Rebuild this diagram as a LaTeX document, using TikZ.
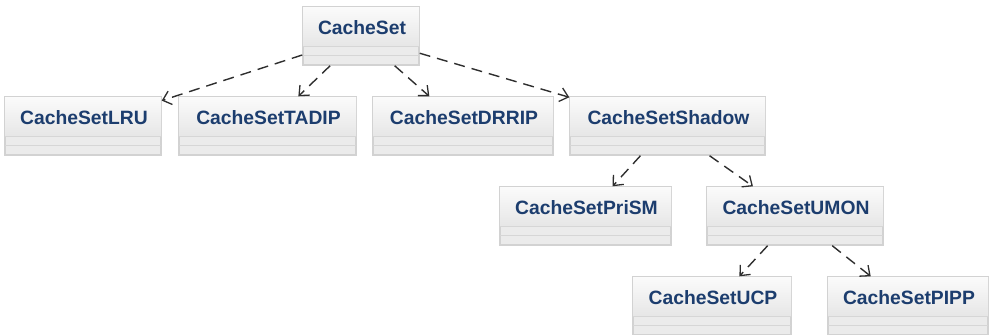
\documentclass[tikz,border=0pt]{standalone}
\usepackage{fontspec}
\setmainfont{Liberation Sans}
\usetikzlibrary{arrows.meta}
\definecolor{boxborder}{HTML}{D2D2D2}
\definecolor{boxtop}{HTML}{FBFBFB}
\definecolor{boxbottom}{HTML}{E6E6E6}
\definecolor{compfill}{HTML}{EBEBEB}
\definecolor{seprule}{HTML}{D6D6D6}
\definecolor{clsname}{HTML}{1C3D6E}
\definecolor{linkcol}{HTML}{2E2E2E}
\tikzset{
  clsbox/.style={rectangle, draw=boxborder, line width=1.4pt, fill=compfill, inner sep=0pt},
  namefill/.style={top color=boxtop, bottom color=boxbottom},
  seprule/.style={draw=seprule, line width=1pt},
  clsname/.style={font=\fontsize{19.3}{22}\selectfont\bfseries, text=clsname, inner sep=0pt},
  realizes/.style={draw=linkcol, line width=1.4pt, dash pattern=on 11pt off 7pt,
    -{Straight Barb[length=8pt,width=14pt,line width=1.3pt]}}
}
% \umlclass{node}{left}{top}{right}{bottom}{class name}
\newcommand\umlclass[6]{%
  \node[clsbox, minimum width={(#4-#2)*1pt}, minimum height={(#5-#3)*1pt}]
    (#1) at ({(#2+#4)/2},{(#3+#5)/2}) {};
  \fill[namefill] ([xshift=0.7pt,yshift=-0.7pt]#1.north west) rectangle ([xshift=-0.7pt,yshift=-40pt]#1.north east);
  \draw[seprule] ([xshift=0.7pt,yshift=-40pt]#1.north west) -- ([xshift=-0.7pt,yshift=-40pt]#1.north east);
  \draw[seprule] ([xshift=0.7pt,yshift=-49pt]#1.north west) -- ([xshift=-0.7pt,yshift=-49pt]#1.north east);
  \node[clsname] (#1-name) at ([xshift=1pt,yshift=-21pt]#1.north) {#6};
}
\begin{document}
\begin{tikzpicture}[x=1pt,y=-1pt]
\useasboundingbox (0,0) rectangle (989,335);
\clip (0,0) rectangle (989,335);

\umlclass{set}{303}{7}{419}{65}{CacheSet}
\umlclass{lru}{5}{97}{161}{155}{CacheSetLRU}
\umlclass{tadip}{179}{97}{356}{155}{CacheSetTADIP}
\umlclass{drrip}{373}{97}{553}{155}{CacheSetDRRIP}
\umlclass{shadow}{570}{97}{765}{155}{CacheSetShadow}
\umlclass{prism}{500}{187}{671}{245}{CacheSetPriSM}
\umlclass{umon}{707}{187}{883}{245}{CacheSetUMON}
\umlclass{ucp}{633}{277}{791}{335}{CacheSetUCP}
\umlclass{pipp}{828}{277}{988}{335}{CacheSetPIPP}

\draw[realizes] (set) -- (lru);
\draw[realizes] (set) -- (tadip);
\draw[realizes] (set) -- (drrip);
\draw[realizes] (set) -- (shadow);
\draw[realizes] (shadow) -- (prism);
\draw[realizes] (shadow) -- (umon);
\draw[realizes] (umon) -- (ucp);
\draw[realizes] (umon) -- (pipp);
\end{tikzpicture}
\end{document}
